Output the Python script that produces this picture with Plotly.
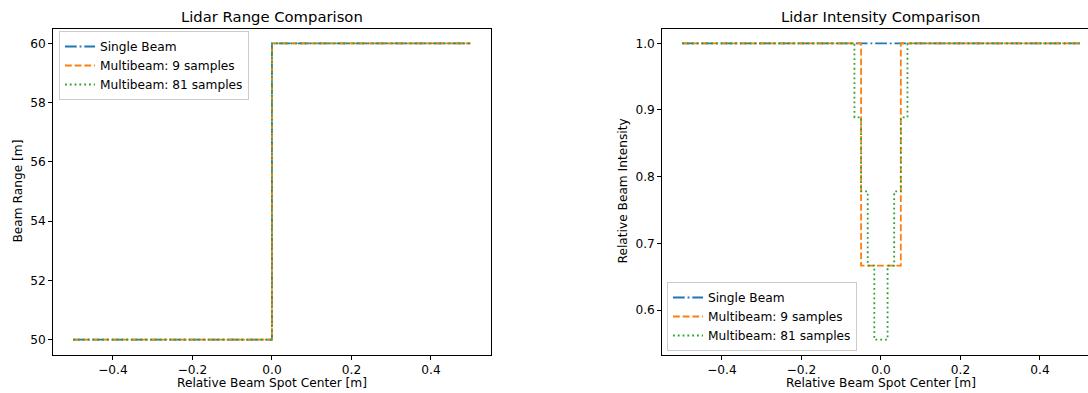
import plotly.graph_objects as go

# ---------------- data ----------------
# Left: lidar range (step at the surface edge)
range_x = [-0.5, 0.0, 0.5]
range_single = [50, 60, 60]
range_multi9 = [50, 60, 60]
range_multi81 = [50, 60, 60]

# Right: lidar intensity (step breakpoints, 'hv' shape)
int_single_x = [-0.5, 0.5]
int_single_y = [1.0, 1.0]
int_multi9_x = [-0.5, -0.05, 0.05, 0.5]
int_multi9_y = [1.0, 0.6667, 1.0, 1.0]
int_multi81_x = [-0.5, -0.0667, -0.05, -0.0333, -0.0167, 0.0167, 0.0333, 0.05, 0.0667, 0.5]
int_multi81_y = [1.0, 0.8889, 0.7778, 0.6667, 0.5556, 0.6667, 0.7778, 0.8889, 1.0, 1.0]

series_names = ["Single Beam", "Multibeam: 9 samples", "Multibeam: 81 samples"]

x_tickvals = [-0.4, -0.2, 0.0, 0.2, 0.4]
x_ticktext = ["−0.4", "−0.2", "0.0", "0.2", "0.4"]
left_y_tickvals = [50, 52, 54, 56, 58, 60]
left_y_ticktext = ["50", "52", "54", "56", "58", "60"]
right_y_tickvals = [0.6, 0.7, 0.8, 0.9, 1.0]
right_y_ticktext = ["0.6", "0.7", "0.8", "0.9", "1.0"]

# ---------------- styles ----------------
W, H = 1088, 393
colors = ["#1f77b4", "#ff7f0e", "#2ca02c"]
dashes = ["11.7px,2.9px,1.8px,2.9px", "6.8px,2.9px", "1.8px,3px"]
LW = 1.8
FONT = "DejaVu Sans, Liberation Sans, sans-serif"
FS = 12.2
TFS = 14.8

fig = go.Figure()

left_series = [range_single, range_multi9, range_multi81]
for i in range(3):
    fig.add_trace(go.Scatter(
        x=range_x, y=left_series[i], mode="lines", line_shape="hv",
        name=series_names[i], legend="legend",
        line=dict(color=colors[i], width=LW, dash=dashes[i]),
        xaxis="x", yaxis="y"))

right_x = [int_single_x, int_multi9_x, int_multi81_x]
right_y = [int_single_y, int_multi9_y, int_multi81_y]
for i in range(3):
    fig.add_trace(go.Scatter(
        x=right_x[i], y=right_y[i], mode="lines", line_shape="hv",
        name=series_names[i], legend="legend2",
        line=dict(color=colors[i], width=LW, dash=dashes[i]),
        xaxis="x2", yaxis="y2"))

# ---------------- layout ----------------
L0, L1 = 53.3 / W, 490.6 / W
R0 = 662.3 / W
ax_w_px = 490.6 - 53.3
right_max = -0.55 + 1.1 * (W - 662.3) / ax_w_px
Y0, Y1 = 1 - 354.5 / H, 1 - 28.5 / H

axis_common = dict(showgrid=False, zeroline=False, showline=True, linecolor="black",
                   linewidth=1, ticks="outside", ticklen=4, tickwidth=1,
                   tickcolor="black", tickfont=dict(family=FONT, size=FS, color="black"))

fig.update_layout(
    width=W, height=H, margin=dict(l=0, r=0, t=0, b=0),
    paper_bgcolor="white", plot_bgcolor="white",
    font=dict(family=FONT, size=FS, color="black"),
    xaxis=dict(domain=[L0, L1], range=[-0.55, 0.55], anchor="y", mirror=True,
               tickmode="array", tickvals=x_tickvals, ticktext=x_ticktext, **axis_common),
    yaxis=dict(domain=[Y0, Y1], range=[49.5, 60.5], anchor="x", mirror=True,
               tickmode="array", tickvals=left_y_tickvals, ticktext=left_y_ticktext, **axis_common),
    xaxis2=dict(domain=[R0, 1.0], range=[-0.55, right_max], anchor="y2", mirror=True,
                tickmode="array", tickvals=x_tickvals, ticktext=x_ticktext, **axis_common),
    yaxis2=dict(domain=[Y0, Y1], range=[0.5333, 1.0222], anchor="x2", mirror=False,
                tickmode="array", tickvals=right_y_tickvals, ticktext=right_y_ticktext, **axis_common),
    legend=dict(x=59 / W, y=1 - 31 / H, xanchor="left", yanchor="top",
                bgcolor="rgba(255,255,255,0.8)", bordercolor="#cccccc", borderwidth=1,
                font=dict(family=FONT, size=FS, color="black"), itemwidth=30,
                tracegroupgap=0),
    legend2=dict(x=667 / W, y=1 - 351 / H, xanchor="left", yanchor="bottom",
                 bgcolor="rgba(255,255,255,0.8)", bordercolor="#cccccc", borderwidth=1,
                 font=dict(family=FONT, size=FS, color="black"), itemwidth=30,
                 tracegroupgap=0),
    showlegend=True,
)

ann = []
ann.append(dict(text="Lidar Range Comparison", x=(L0 + L1) / 2, y=1 - 16 / H,
                xref="paper", yref="paper", showarrow=False, xanchor="center", yanchor="middle",
                font=dict(family=FONT, size=TFS, color="black")))
ann.append(dict(text="Lidar Intensity Comparison", x=R0 + ax_w_px / W / 2, y=1 - 16 / H,
                xref="paper", yref="paper", showarrow=False, xanchor="center", yanchor="middle",
                font=dict(family=FONT, size=TFS, color="black")))
for cx in [(L0 + L1) / 2, R0 + ax_w_px / W / 2]:
    ann.append(dict(text="Relative Beam Spot Center [m]", x=cx, y=1 - 383 / H,
                    xref="paper", yref="paper", showarrow=False, xanchor="center", yanchor="middle",
                    font=dict(family=FONT, size=FS, color="black")))
ann.append(dict(text="Beam Range [m]", x=18 / W, y=(Y0 + Y1) / 2, textangle=-90,
                xref="paper", yref="paper", showarrow=False, xanchor="center", yanchor="middle",
                font=dict(family=FONT, size=FS, color="black")))
ann.append(dict(text="Relative Beam Intensity", x=623 / W, y=(Y0 + Y1) / 2, textangle=-90,
                xref="paper", yref="paper", showarrow=False, xanchor="center", yanchor="middle",
                font=dict(family=FONT, size=FS, color="black")))
fig.update_layout(annotations=ann)

fig.write_html("out.html")
